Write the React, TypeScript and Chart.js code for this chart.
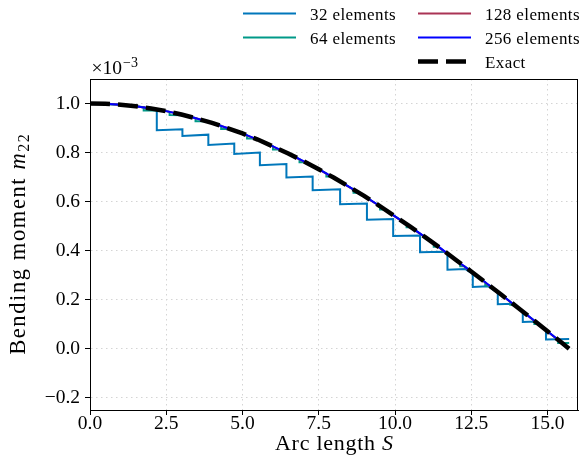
import React, { useEffect, useRef } from 'react';
import { Chart, registerables } from 'chart.js';

Chart.register(...registerables);

// ---- data (values in units of 1e-3) ----
const exactS = [0, 0.5, 1, 1.5, 2, 2.5, 3, 3.5, 4, 4.5, 5, 5.5, 6, 6.5, 7, 7.5, 8, 8.5, 9, 9.5, 10, 10.5, 11, 11.5, 12, 12.5, 13, 13.5, 14, 14.5, 15, 15.5, 15.708];
const exactM = [1.000, 0.999, 0.995, 0.989, 0.980, 0.969, 0.955, 0.939, 0.921, 0.900, 0.878, 0.853, 0.825, 0.796, 0.765, 0.732, 0.697, 0.660, 0.622, 0.582, 0.540, 0.498, 0.454, 0.409, 0.362, 0.315, 0.267, 0.219, 0.170, 0.121, 0.071, 0.021, 0.000];

const el256M = [1.000, 0.999, 0.995, 0.989, 0.980, 0.969, 0.955, 0.939, 0.921, 0.900, 0.878, 0.853, 0.825, 0.796, 0.765, 0.732, 0.697, 0.660, 0.622, 0.582, 0.540, 0.498, 0.454, 0.409, 0.362, 0.315, 0.267, 0.219, 0.170, 0.121, 0.071, 0.021, 0.002];
const el128M = [1.000, 0.999, 0.995, 0.989, 0.980, 0.969, 0.955, 0.939, 0.921, 0.900, 0.877, 0.852, 0.824, 0.795, 0.764, 0.731, 0.696, 0.659, 0.621, 0.581, 0.539, 0.497, 0.453, 0.408, 0.361, 0.314, 0.266, 0.218, 0.169, 0.120, 0.070, 0.020, 0.004];

const el64S = [0, 1.0, 1.76, 1.76, 2.37, 2.61, 2.61, 3.11, 3.46, 3.46, 3.84, 4.30, 4.30, 4.61, 5.15, 5.15, 5.41, 6.00, 6.00, 6.23, 6.87, 6.87, 7.08, 7.75, 7.75, 7.94, 8.64, 8.64, 8.81, 9.51, 9.51, 9.67, 10.38, 10.38, 10.53, 11.27, 11.27, 11.41, 12.14, 12.14, 12.28, 12.96, 12.96, 13.10, 13.78, 13.78, 13.91, 14.57, 14.57, 14.70, 15.35, 15.35, 15.71];
const el64M = [1.000, 0.995, 0.985, 0.972, 0.972, 0.966, 0.953, 0.952, 0.941, 0.928, 0.928, 0.909, 0.896, 0.896, 0.870, 0.857, 0.857, 0.825, 0.812, 0.812, 0.773, 0.760, 0.760, 0.715, 0.702, 0.702, 0.649, 0.636, 0.636, 0.581, 0.568, 0.568, 0.508, 0.495, 0.495, 0.429, 0.416, 0.416, 0.349, 0.336, 0.336, 0.271, 0.258, 0.258, 0.192, 0.179, 0.179, 0.114, 0.101, 0.101, 0.036, 0.023, 0.023];

const el32S = [0, 0.5, 1.0, 1.5, 2.19, 2.19, 3.03, 3.03, 3.88, 3.88, 4.73, 4.73, 5.57, 5.57, 6.44, 6.44, 7.30, 7.30, 8.20, 8.20, 9.08, 9.08, 9.94, 9.94, 10.82, 10.82, 11.60, 11.72, 11.72, 12.30, 12.55, 12.55, 13.05, 13.37, 13.37, 13.88, 14.19, 14.19, 14.63, 14.95, 14.95, 15.71];
const el32M = [1.000, 0.999, 0.995, 0.989, 0.976, 0.891, 0.895, 0.868, 0.873, 0.831, 0.837, 0.794, 0.800, 0.748, 0.753, 0.698, 0.702, 0.646, 0.650, 0.589, 0.592, 0.526, 0.529, 0.460, 0.462, 0.393, 0.395, 0.389, 0.322, 0.325, 0.305, 0.252, 0.255, 0.228, 0.181, 0.183, 0.152, 0.109, 0.111, 0.078, 0.038, 0.040];

const xTicks = [0, 2.5, 5, 7.5, 10, 12.5, 15];
const xTickLabels = ['0.0', '2.5', '5.0', '7.5', '10.0', '12.5', '15.0'];
const yTicks = [-0.2, 0, 0.2, 0.4, 0.6, 0.8, 1.0];
const yTickLabels = ['\u22120.2', '0.0', '0.2', '0.4', '0.6', '0.8', '1.0'];

const seriesLabels = ['32 elements', '64 elements', '128 elements', '256 elements', 'Exact'];
const seriesColors = ['#0077BB', '#009988', '#AA3355', '#0000FF', '#000000'];

const FONT = '"Liberation Serif", "Times New Roman", serif';

const toXY = (xs: number[], ys: number[]) => xs.map((x, i) => ({ x, y: ys[i] }));

function drawRuns(ctx: CanvasRenderingContext2D, runs: { t: string; font: string; dy: number }[], cx: number, baseY: number, target: number, maxSp: number) {
  let natural = 0;
  let count = 0;
  ctx.letterSpacing = '0px';
  for (const r of runs) {
    ctx.font = r.font;
    natural += ctx.measureText(r.t).width;
    count += r.t.length;
  }
  let sp = (target - natural) / Math.max(1, count - 1);
  sp = Math.max(0, Math.min(maxSp, sp));
  const total = natural + sp * (count - 1);
  let x = cx - total / 2;
  ctx.textAlign = 'left';
  ctx.textBaseline = 'alphabetic';
  for (const r of runs) {
    ctx.font = r.font;
    for (const ch of r.t) {
      ctx.fillText(ch, x, baseY + r.dy);
      x += ctx.measureText(ch).width + sp;
    }
  }
}

const decor = {
  id: 'decor',
  afterDraw(chart: any) {
    const ctx: CanvasRenderingContext2D = chart.ctx;
    const { left, right, top, bottom } = chart.chartArea;
    ctx.save();
    ctx.strokeStyle = '#000';
    ctx.lineWidth = 1;
    ctx.setLineDash([]);
    ctx.beginPath();
    ctx.moveTo(left, Math.round(top) + 0.5);
    ctx.lineTo(right, Math.round(top) + 0.5);
    ctx.moveTo(Math.round(right) - 0.5, top);
    ctx.lineTo(Math.round(right) - 0.5, bottom);
    ctx.stroke();

    // offset text
    ctx.fillStyle = '#000';
    ctx.textAlign = 'left';
    ctx.textBaseline = 'alphabetic';
    ctx.font = `19.5px ${FONT}`;
    ctx.fillText('\u00d710', 91.5, 74);
    const w = ctx.measureText('\u00d710').width;
    ctx.font = `14px ${FONT}`;
    ctx.fillText('\u22123', 91.5 + w + 1, 67);

    // x label
    drawRuns(ctx, [
      { t: 'Arc length ', font: `22px ${FONT}`, dy: 0 },
      { t: 'S', font: `italic 22px ${FONT}`, dy: 0 },
    ], (left + right) / 2, 450, 118, 1.5);

    // y label
    ctx.save();
    ctx.translate(25, (top + bottom) / 2);
    ctx.rotate(-Math.PI / 2);
    drawRuns(ctx, [
      { t: 'Bending moment ', font: `22.5px ${FONT}`, dy: 0 },
      { t: 'm', font: `italic 22.5px ${FONT}`, dy: 0 },
      { t: '22', font: `16px ${FONT}`, dy: 4 },
    ], 0, 0, 226, 1.6);
    ctx.restore();

    // legend
    const pos = [
      { x: 243, y: 13.5 },
      { x: 243, y: 37.5 },
      { x: 418, y: 13.5 },
      { x: 418, y: 37.5 },
      { x: 418, y: 61.5 },
    ];
    ctx.letterSpacing = '0.4px';
    for (let i = 0; i < seriesLabels.length; i++) {
      const p = pos[i];
      ctx.beginPath();
      if (i === 4) {
        ctx.lineWidth = 4.5;
        ctx.setLineDash([20, 8]);
      } else {
        ctx.lineWidth = 2;
        ctx.setLineDash([]);
      }
      ctx.strokeStyle = seriesColors[i];
      ctx.moveTo(p.x, p.y);
      ctx.lineTo(p.x + 53, p.y);
      ctx.stroke();
      ctx.setLineDash([]);
      ctx.font = `17px ${FONT}`;
      ctx.fillStyle = '#000';
      ctx.textAlign = 'left';
      ctx.textBaseline = 'alphabetic';
      ctx.fillText(seriesLabels[i], p.x + 67, p.y + 6);
    }
    ctx.letterSpacing = '0px';
    ctx.restore();
  },
};

export default function App() {
  const ref = useRef<HTMLCanvasElement>(null);
  useEffect(() => {
    const canvas = ref.current!;
    const common = { pointRadius: 0, borderWidth: 2, fill: false, tension: 0 };
    const chart = new Chart(canvas, {
      type: 'line',
      data: {
        datasets: [
          { ...common, label: seriesLabels[4], data: toXY(exactS, exactM), borderColor: seriesColors[4], borderWidth: 4.5, borderDash: [20, 8], borderCapStyle: 'butt', order: 0 },
          { ...common, label: seriesLabels[3], data: toXY(exactS, el256M), borderColor: seriesColors[3], order: 1 },
          { ...common, label: seriesLabels[2], data: toXY(exactS, el128M), borderColor: seriesColors[2], order: 2 },
          { ...common, label: seriesLabels[1], data: toXY(el64S, el64M), borderColor: seriesColors[1], order: 3 },
          { ...common, label: seriesLabels[0], data: toXY(el32S, el32M), borderColor: seriesColors[0], order: 4 },
        ],
      } as any,
      options: {
        responsive: false,
        animation: false,
        devicePixelRatio: 1,
        layout: { padding: { left: 0, right: 4, top: 79, bottom: 0 } },
        plugins: { legend: { display: false }, tooltip: { enabled: false } },
        scales: {
          x: {
            type: 'linear',
            min: 0,
            max: 16,
            afterBuildTicks: (s: any) => { s.ticks = xTicks.map((v) => ({ value: v })); },
            afterFit: (s: any) => { s.height = 62; },
            ticks: {
              autoSkip: false,
              maxRotation: 0,
              padding: -3,
              color: '#000',
              font: { family: FONT, size: 19.5 },
              callback: (v: any) => { const i = xTicks.indexOf(Number(v)); return i >= 0 ? xTickLabels[i] : ''; },
            },
            grid: { color: '#d4d4d4', lineWidth: 1, tickColor: '#000', tickLength: 5, tickWidth: 1, drawTicks: true },
            border: { display: true, color: '#000', width: 1, dash: [1.5, 3.5] },
          },
          y: {
            type: 'linear',
            min: -0.25,
            max: 1.1,
            afterBuildTicks: (s: any) => { s.ticks = yTicks.map((v) => ({ value: v })); },
            afterFit: (s: any) => { s.width = 90; },
            ticks: {
              autoSkip: false,
              padding: 5,
              color: '#000',
              font: { family: FONT, size: 19.5 },
              callback: (v: any) => { const i = yTicks.findIndex((t) => Math.abs(t - Number(v)) < 1e-9); return i >= 0 ? yTickLabels[i] : ''; },
            },
            grid: { color: '#d4d4d4', lineWidth: 1, tickColor: '#000', tickLength: 5, tickWidth: 1, drawTicks: true },
            border: { display: true, color: '#000', width: 1, dash: [1.5, 3.5] },
          },
        },
      } as any,
      plugins: [decor],
    });
    return () => chart.destroy();
  }, []);
  return (
    <div style={{ position: 'absolute', left: 0, top: 0, width: 582, height: 472, background: '#fff' }}>
      <canvas ref={ref} width={582} height={472} style={{ display: 'block', width: 582, height: 472 }} />
    </div>
  );
}
